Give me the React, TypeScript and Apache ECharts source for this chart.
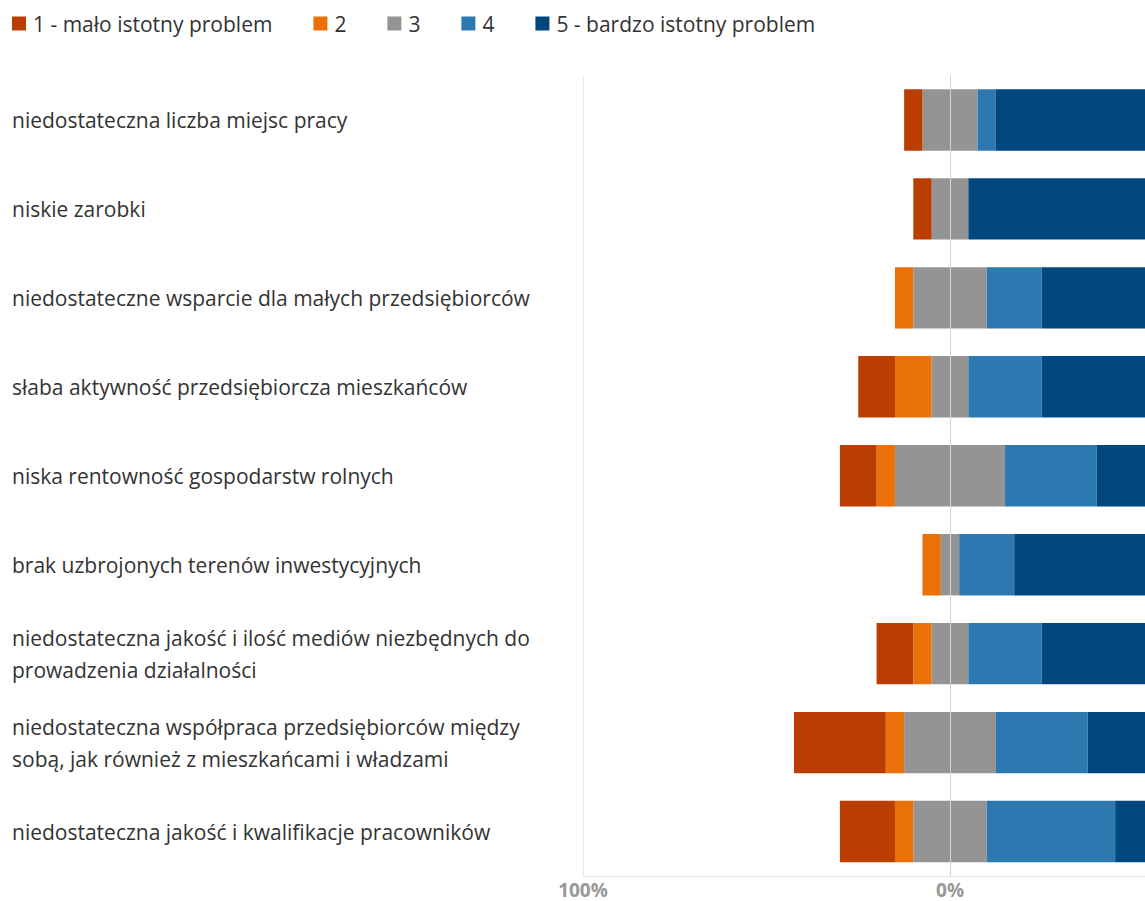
import React, { useEffect, useRef } from "react";
import * as echarts from "echarts";

const categories = [
  "niedostateczna liczba miejsc pracy",
  "niskie zarobki",
  "niedostateczne wsparcie dla małych przedsiębiorców",
  "słaba aktywność przedsiębiorcza mieszkańców",
  "niska rentowność gospodarstw rolnych",
  "brak uzbrojonych terenów inwestycyjnych",
  "niedostateczna jakość i ilość mediów niezbędnych do\nprowadzenia działalności",
  "niedostateczna współpraca przedsiębiorców między\nsobą, jak również z mieszkańcami i władzami",
  "niedostateczna jakość i kwalifikacje pracowników",
];

const seriesNames = ["1 - mało istotny problem", "2", "3", "4", "5 - bardzo istotny problem"];
const v1 = [5, 5, 0, 10, 10, 0, 10, 25, 15];
const v2 = [0, 0, 5, 10, 5, 5, 5, 5, 5];
const v3 = [15, 10, 20, 10, 30, 5, 10, 25, 20];
const v4 = [5, 0, 15, 20, 25, 15, 20, 25, 35];
const v5 = [75, 85, 60, 50, 30, 75, 55, 20, 25];

const xTicks = { min: -100, max: 100, interval: 100 };
const colors = ["#BA3D02", "#EA7108", "#949494", "#2C78B0", "#00477F"];

export default function App() {
  const ref = useRef<HTMLDivElement>(null);
  useEffect(() => {
    document.body.style.margin = "0";
    const chart = echarts.init(ref.current!, null, { renderer: "svg" });
    const font = "'Open Sans', 'Noto Sans', sans-serif";
    const bar = (name: string, data: number[], color: string, extra: any = {}) => ({
      name,
      type: "bar",
      stack: "total",
      data,
      barCategoryGap: "31%",
      itemStyle: { color },
      emphasis: { disabled: true },
      ...extra,
    });
    chart.setOption({
      animation: false,
      textStyle: { fontFamily: font },
      legend: {
        data: seriesNames,
        left: 7,
        top: 8,
        itemWidth: 14,
        itemHeight: 14,
        itemGap: 41,
        icon: "rect",
        textStyle: { fontSize: 21, color: "#333", fontFamily: font, padding: [0, 0, 0, 2] },
      },
      grid: {
        left: 583,
        right: 0,
        top: 75.5,
        bottom: 25,
        containLabel: false,
        outerBoundsMode: "none",
      },
      xAxis: {
        type: "value",
        ...xTicks,
        axisLine: { show: true, lineStyle: { color: "#e8e8e8" } },
        axisTick: { show: false },
        splitLine: { show: true, lineStyle: { color: "#e8e8e8" } },
        axisLabel: {
          formatter: (v: number) => (v > 0 ? "" : Math.abs(v) + "%"),
          color: "#999",
          fontWeight: "bold",
          fontSize: 19,
          margin: 4,
          fontFamily: font,
        },
      },
      yAxis: {
        type: "category",
        data: categories,
        inverse: true,
        axisLine: { show: false },
        axisTick: { show: false },
        splitLine: { show: false },
        axisLabel: {
          align: "left",
          margin: 571,
          color: "#333",
          fontSize: 21,
          lineHeight: 32,
          fontFamily: font,
        },
      },
      series: [
        bar(seriesNames[2], v3.map((v) => -v / 2), colors[2]),
        bar(seriesNames[1], v2.map((v) => -v), colors[1]),
        bar(seriesNames[0], v1.map((v) => -v), colors[0]),
        bar(seriesNames[2], v3.map((v) => v / 2), colors[2]),
        bar(seriesNames[3], v4, colors[3]),
        bar(seriesNames[4], v5, colors[4], {
          markLine: {
            silent: true,
            symbol: "none",
            label: { show: false },
            lineStyle: { color: "#d4d4d4", width: 1, type: "solid" },
            data: [{ xAxis: 0 }],
            z: 10,
          },
        }),
      ],
    });
    return () => chart.dispose();
  }, []);
  return (
    <div style={{ width: 1145, height: 901, overflow: "hidden" }}>
      <div ref={ref} style={{ width: 1317, height: 901 }} />
    </div>
  );
}
